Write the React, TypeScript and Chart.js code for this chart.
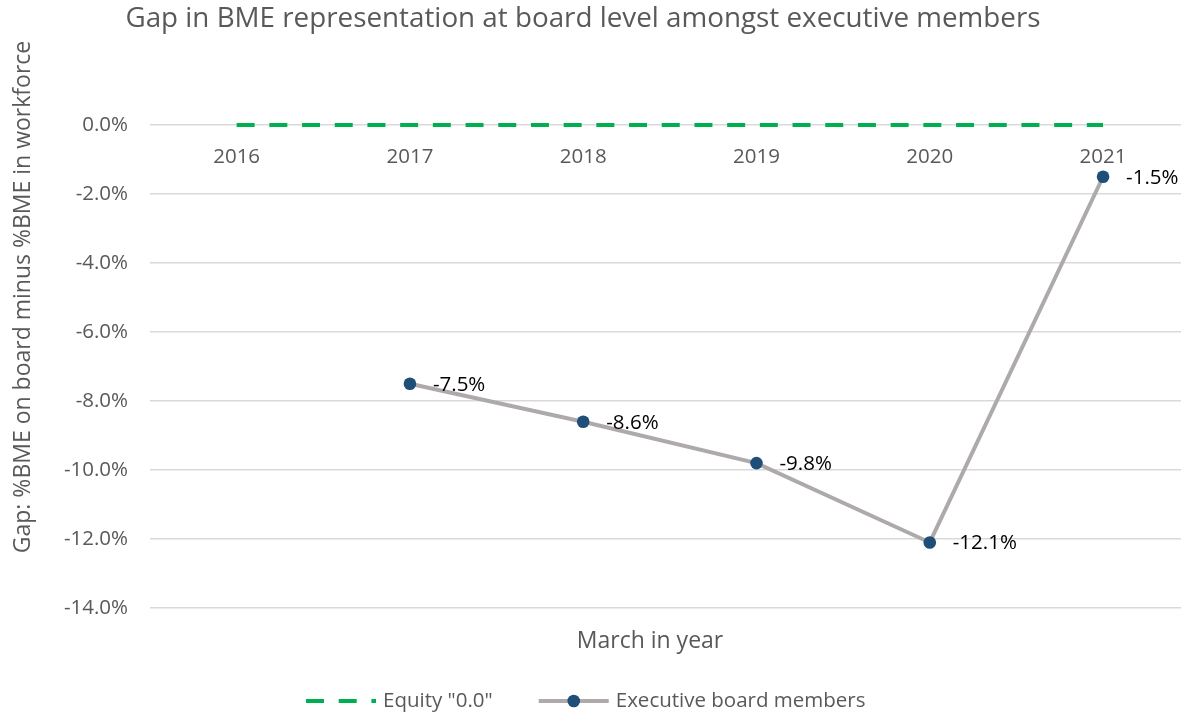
import React, { useEffect, useRef } from "react";
import { Chart, registerables } from "chart.js";

Chart.register(...registerables);

const years = ["2016", "2017", "2018", "2019", "2020", "2021"];
const equityValues = [0, 0, 0, 0, 0, 0];
const executiveValues: (number | null)[] = [null, -7.5, -8.6, -9.8, -12.1, -1.5];
const yMin = -14;
const yMax = 0;
const yStep = 2;

const titleText = "Gap in BME representation at board level amongst executive members";
const yTitleText = "Gap: %BME on board minus %BME in workforce";
const xTitleText = "March in year";
const equityLabel = 'Equity "0.0"';
const executiveLabel = "Executive board members";

const FONT = "'Open Sans', sans-serif";
const TEXT = "#595959";
const GREEN = "#00B050";
const GREY_LINE = "#AEAAAA";
const MARKER = "#1F4E79";

const overlayPlugin = {
  id: "overlay",
  afterDatasetsDraw(chart: any) {
    const ctx = chart.ctx;
    const meta = chart.getDatasetMeta(1);
    ctx.save();
    ctx.font = `20.5px ${FONT}`;
    ctx.fillStyle = "#000000";
    ctx.textAlign = "left";
    ctx.textBaseline = "middle";
    meta.data.forEach((pt: any, i: number) => {
      const v = executiveValues[i];
      if (v == null) return;
      ctx.fillText(v.toFixed(1) + "%", pt.x + 23, pt.y + 1);
    });
    ctx.restore();
  },
  afterDraw(chart: any) {
    const ctx = chart.ctx;
    ctx.save();
    ctx.fillStyle = TEXT;
    ctx.font = `27.8px ${FONT}`;
    ctx.textAlign = "center";
    ctx.textBaseline = "middle";
    ctx.fillText(titleText, 583, 19);

    // y axis title
    ctx.font = `23px ${FONT}`;
    ctx.translate(23, 297);
    ctx.rotate(-Math.PI / 2);
    ctx.fillText(yTitleText, 0, 0);
    ctx.restore();

    ctx.save();
    ctx.fillStyle = TEXT;
    ctx.font = `23px ${FONT}`;
    ctx.textAlign = "center";
    ctx.textBaseline = "middle";
    ctx.fillText(xTitleText, 650, 641);

    // legend
    const ly = 701;
    ctx.font = `20.5px ${FONT}`;
    ctx.textAlign = "left";
    let x = 306;
    ctx.strokeStyle = GREEN;
    ctx.lineWidth = 4;
    ctx.setLineDash([18, 14.7]);
    ctx.beginPath();
    ctx.moveTo(x, ly);
    ctx.lineTo(x + 70, ly);
    ctx.stroke();
    ctx.setLineDash([]);
    x += 77;
    ctx.fillText(equityLabel, x, ly);
    x += ctx.measureText(equityLabel).width + 46;
    ctx.strokeStyle = GREY_LINE;
    ctx.beginPath();
    ctx.moveTo(x, ly);
    ctx.lineTo(x + 70, ly);
    ctx.stroke();
    ctx.fillStyle = MARKER;
    ctx.beginPath();
    ctx.arc(x + 35, ly, 6.3, 0, Math.PI * 2);
    ctx.fill();
    ctx.fillStyle = TEXT;
    x += 77;
    ctx.fillText(executiveLabel, x, ly);
    ctx.restore();
  },
};

export default function App() {
  const canvasRef = useRef<HTMLCanvasElement | null>(null);

  useEffect(() => {
    let chart: Chart | null = null;
    let cancelled = false;
    const make = () => {
      if (cancelled || !canvasRef.current) return;
      chart = new Chart(canvasRef.current, {
        type: "line",
        data: {
          labels: years,
          datasets: [
            {
              label: equityLabel,
              data: equityValues,
              borderColor: GREEN,
              borderWidth: 4,
              borderDash: [18, 14.7],
              pointRadius: 0,
              fill: false,
              clip: 8,
            },
            {
              label: executiveLabel,
              data: executiveValues,
              borderColor: GREY_LINE,
              borderWidth: 4,
              pointRadius: 6.3,
              pointBackgroundColor: MARKER,
              pointBorderColor: MARKER,
              pointBorderWidth: 0,
              tension: 0,
              fill: false,
              clip: 8,
            },
          ],
        },
        options: {
          responsive: false,
          animation: false,
          devicePixelRatio: 1,
          layout: { padding: { left: 0, right: 0, top: 125, bottom: 109 } },
          plugins: {
            legend: { display: false },
            tooltip: { enabled: false },
            title: { display: false },
          },
          scales: {
            x: {
              type: "category",
              offset: true,
              position: { y: 0 } as any,
              grid: { display: false, drawTicks: false, offset: true },
              border: { display: false },
              ticks: {
                color: TEXT,
                font: { family: FONT, size: 20.5 },
                padding: 20,
                maxRotation: 0,
              },
            },
            y: {
              min: yMin,
              max: yMax,
              afterFit(scale: any) {
                scale.width = 150;
              },
              grid: { color: "#D9D9D9", lineWidth: 1.5, drawTicks: false },
              border: { display: false },
              ticks: {
                stepSize: yStep,
                color: TEXT,
                font: { family: FONT, size: 20.5 },
                padding: 22,
                callback: (v: any) => Number(v).toFixed(1) + "%",
              },
            },
          },
        },
        plugins: [overlayPlugin],
      });
    };
    const fonts = (document as any).fonts;
    if (fonts && fonts.load) {
      Promise.all([fonts.load(`20px "Open Sans"`)]).then(make, make);
    } else {
      make();
    }
    return () => {
      cancelled = true;
      if (chart) chart.destroy();
    };
  }, []);

  return (
    <div style={{ position: "fixed", left: 0, top: 0, width: 1181, height: 717, background: "#ffffff", overflow: "hidden" }}>
      <canvas ref={canvasRef} width={1196} height={717} style={{ display: "block" }} />
    </div>
  );
}
